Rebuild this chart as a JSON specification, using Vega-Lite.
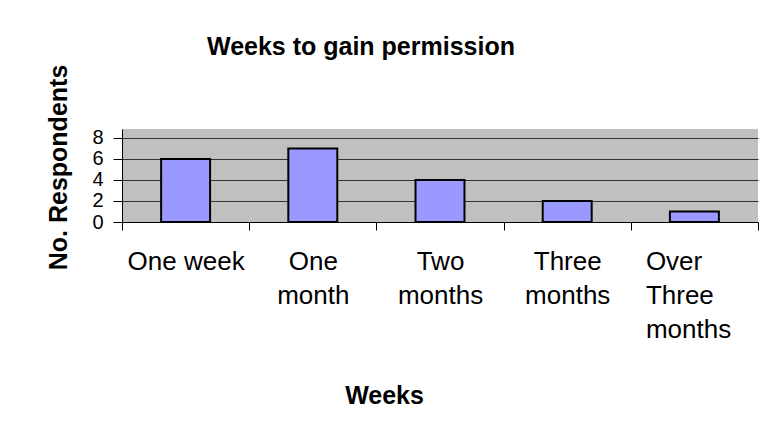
{
  "$schema": "https://vega.github.io/schema/vega-lite/v6.json",
  "autosize": {"type": "none"},
  "width": 636,
  "height": 93,
  "padding": {"left": 122, "top": 129, "right": 14, "bottom": 210},
  "background": "white",
  "title": {
    "text": "Weeks to gain permission",
    "anchor": "start",
    "frame": "group",
    "dx": 85,
    "offset": 4,
    "font": "Liberation Sans",
    "fontSize": 25,
    "fontWeight": "bold",
    "color": "black"
  },
  "data": {
    "values": [
      {"category": "One week", "respondents": 6},
      {"category": "One month", "respondents": 7},
      {"category": "Two months", "respondents": 4},
      {"category": "Three months", "respondents": 2},
      {"category": "Over Three months", "respondents": 1}
    ]
  },
  "mark": {"type": "bar", "fill": "#9999FF", "stroke": "black", "strokeWidth": 2, "width": {"band": 0.385}},
  "encoding": {
    "x": {
      "field": "category",
      "type": "nominal",
      "sort": null,
      "scale": {"paddingInner": 0, "paddingOuter": 0},
      "axis": {
        "title": "Weeks",
        "titleFont": "Liberation Sans",
        "titleFontSize": 25,
        "titleFontWeight": "bold",
        "titleColor": "black",
        "titleX": 262,
        "titleY": 181,
        "titleBaseline": "alphabetic",
        "labelAngle": 0,
        "labelFont": "Liberation Sans",
        "labelFontSize": 26,
        "labelColor": "black",
        "labelPadding": 18,
        "labelLineHeight": 34,
        "labelBaseline": "top",
        "labelExpr": "datum.label == 'One week' ? 'One week' : split(datum.label, ' ')",
        "labelAlign": {"condition": {"test": "datum.value == 'Over Three months'", "value": "left"}, "value": "center"},
        "labelOffset": {"condition": {"test": "datum.value == 'Over Three months'", "value": -49}, "value": 0},
        "labelOverlap": false,
        "labelLimit": 300,
        "tickBand": "extent",
        "tickSize": 8,
        "tickColor": "black",
        "domainColor": "black",
        "grid": false,
        "encode": {
          "labels": {
            "enter": {
              "lineHeight": {"signal": "datum.value == 'Over Three months' ? 30 : 37"}
            },
            "update": {
              "lineHeight": {"signal": "datum.value == 'Over Three months' ? 30 : 37"}
            }
          }
        }
      }
    },
    "y": {
      "field": "respondents",
      "type": "quantitative",
      "scale": {"domain": [0, 8.85], "nice": false},
      "axis": {
        "title": "No. Respondents",
        "titleFont": "Liberation Sans",
        "titleFontSize": 25,
        "titleFontWeight": "bold",
        "titleColor": "black",
        "titleX": -64,
        "titleY": 38,
        "titleBaseline": "middle",
        "values": [0, 2, 4, 6, 8],
        "labelFont": "Liberation Sans",
        "labelFontSize": 20,
        "labelColor": "black",
        "labelPadding": 10,
        "labelOverlap": false,
        "tickSize": 9,
        "tickColor": "black",
        "domainColor": "black",
        "grid": true,
        "gridColor": "#333333",
        "gridOpacity": 1
      }
    }
  },
  "config": {
    "view": {"fill": "#C0C0C0", "stroke": null}
  }
}
